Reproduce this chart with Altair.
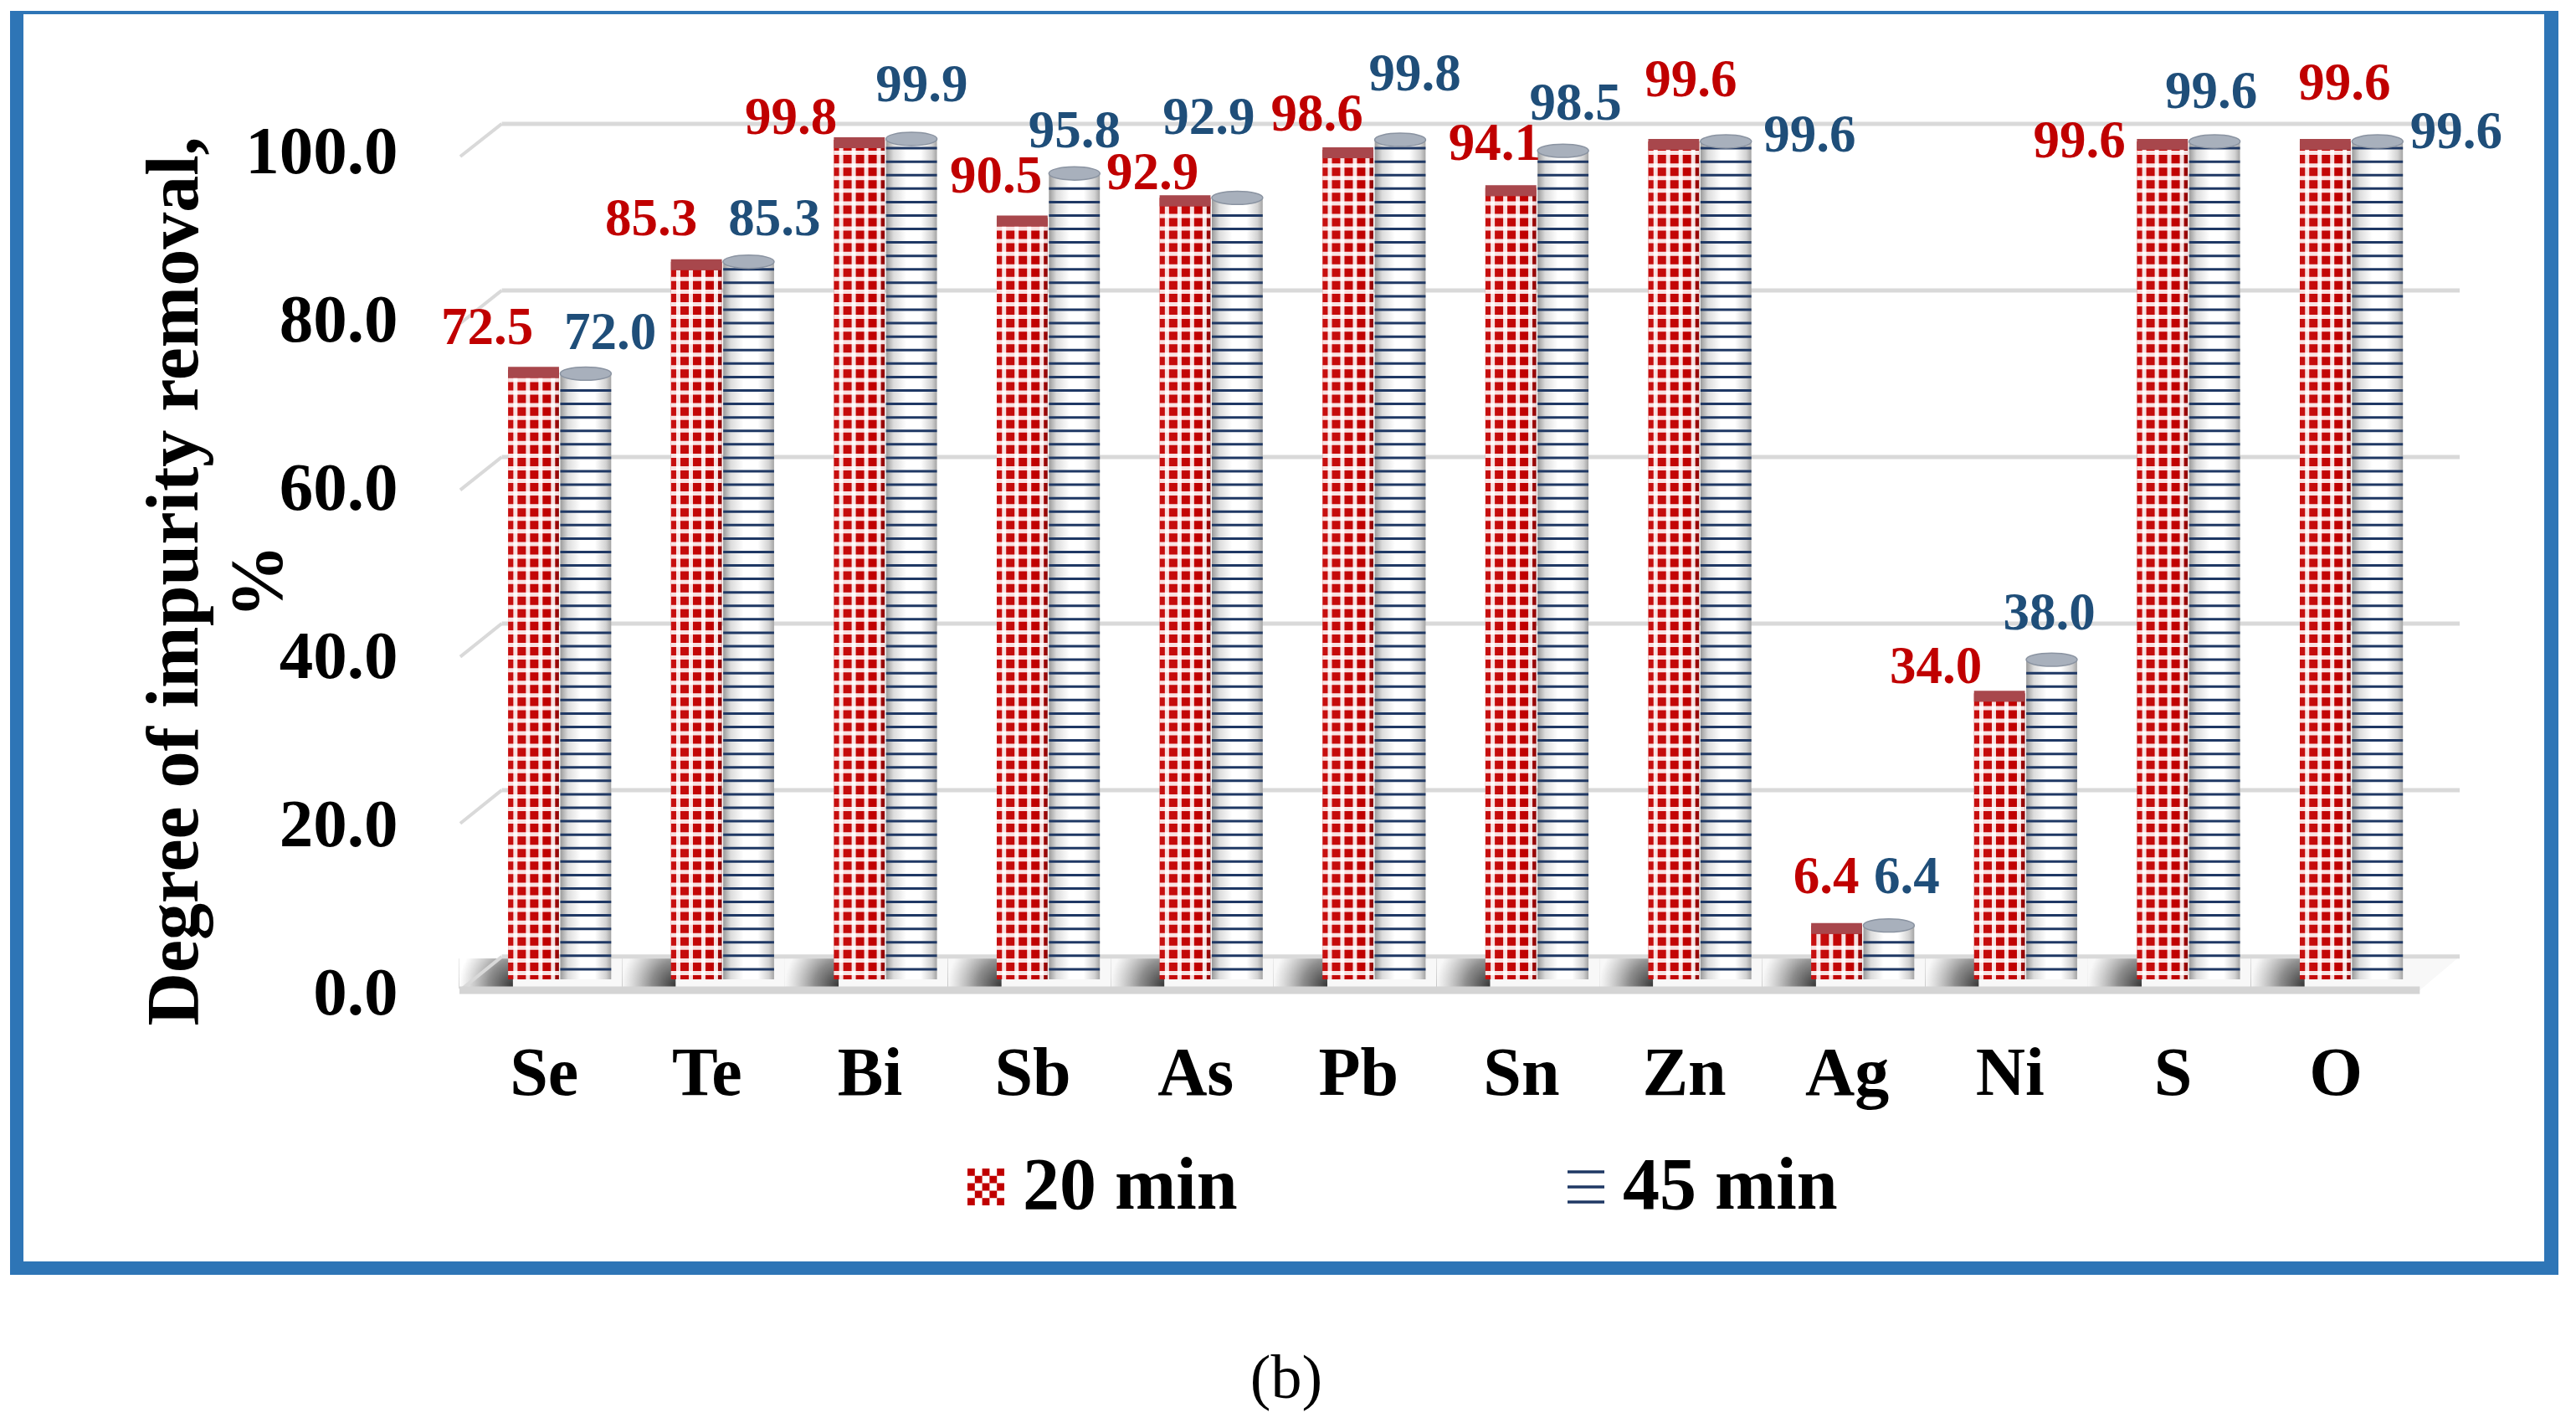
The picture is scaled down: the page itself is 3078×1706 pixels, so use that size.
import json
import altair as alt
import pandas as pd

# ---------------- data ----------------
elements = ["Se", "Te", "Bi", "Sb", "As", "Pb", "Sn", "Zn", "Ag", "Ni", "S", "O"]
removal_20 = [72.5, 85.3, 99.8, 90.5, 92.9, 98.6, 94.1, 99.6, 6.4, 34.0, 99.6, 99.6]
removal_45 = [72.0, 85.3, 99.9, 95.8, 92.9, 99.8, 98.5, 99.6, 6.4, 38.0, 99.6, 99.6]
series = ["20 min", "45 min"]
y_ticks = [0, 20, 40, 60, 80, 100]
y_title = ["Degree of impurity removal,", "%"]
caption = ["(b)"]

# label nudges from the top of each bar (x in category units, y in % units)
nudge_x_20 = [-0.285, -0.278, -0.42, -0.16, -0.20, -0.19, -0.10, 0.105, -0.063, -0.39, -0.51, 0.118]
nudge_y_20 = [4.9, 5.05, 2.6, 4.9, 2.9, 4.2, 5.2, 7.3, 5.7, 3.1, 0.0, 6.9]
nudge_x_45 = [0.15, 0.159, 0.063, 0.0, -0.175, 0.09, 0.077, 0.515, 0.11, -0.015, -0.02, 0.483]
nudge_y_45 = [4.8, 5.05, 6.4, 5.0, 9.5, 7.8, 5.6, 0.7, 5.7, 5.5, 5.9, 1.1]

# ---------------- style ----------------
SERIF = "Liberation Serif"
RED = "#c00000"
NAVY = "#1f3864"
BLUE_TXT = "#1f4e79"
FRAME = "#2e75b6"
GRID = "#d9d9d9"
HALF = 0.3125   # bar width in category units
GAP = 0.004

rows = []
for i, el in enumerate(elements):
    for s, vals, nx, ny, side in ((series[0], removal_20, nudge_x_20, nudge_y_20, -1),
                                  (series[1], removal_45, nudge_x_45, nudge_y_45, 1)):
        if side < 0:
            x0, x1 = i - GAP - HALF, i - GAP
        else:
            x0, x1 = i + GAP, i + GAP + HALF
        rows.append(dict(element=el, idx=i, series=s, value=vals[i], base=0.0,
                         x0=x0, x1=x1, xc=(x0 + x1) / 2,
                         lx=(x0 + x1) / 2 + nx[i], ly=vals[i] + ny[i],
                         sh0=x0 - 0.30, sh1=x0 + 0.03))
bars = pd.DataFrame(rows)
red = bars[bars.series == series[0]].reset_index(drop=True)
blue = bars[bars.series == series[1]].reset_index(drop=True)

grid = pd.DataFrame({"v": y_ticks})
floor = pd.DataFrame({"fy": [-1.3, 2.7], "fxa": [-0.615, -0.355], "fxb": [11.42, 11.665]})
one = pd.DataFrame({"t": caption})

xs = alt.Scale(domain=[-0.615, 11.665], nice=False, zero=False)
ys = alt.Scale(domain=[0, 100], nice=False, zero=False)

xaxis = alt.Axis(values=list(range(len(elements))),
                 labelExpr=json.dumps(elements) + "[datum.value]",
                 grid=False, ticks=False, tickSize=0, domain=False, title=None,
                 labelFont=SERIF, labelFontSize=82, labelFontWeight="bold",
                 labelColor="black", labelPadding=137, labelBaseline="alphabetic",
                 labelOffset=-19, labelOverlap=False, labelFlush=False, labelBound=False,
                 labelLimit=1000)
yaxis = alt.Axis(values=y_ticks, format=".1f", grid=False, ticks=False, tickSize=0,
                 domain=False, labelFont=SERIF, labelFontSize=81, labelFontWeight="bold",
                 labelColor="black", labelPadding=74, labelOffset=17, labelLimit=1000,
                 labelOverlap=False, labelFlush=False,
                 title=y_title, titleFont=SERIF, titleFontSize=88, titleFontWeight="bold",
                 titleColor="black", titleAngle=270, titleAlign="center",
                 titleBaseline="middle", titleLineHeight=100, titleX=-340, titleY=529,
                 titleLimit=3000)


def X(f):
    return alt.X(f, type="quantitative", scale=xs, axis=xaxis)


def Y(f):
    return alt.Y(f, type="quantitative", scale=ys, axis=yaxis)


# floor
floor_area = alt.Chart(floor).mark_area(orient="horizontal", color="#f8f8f8").encode(
    y=Y("fy"), x=X("fxa"), x2=alt.X2("fxb"))

shadow_grad = alt.RadialGradient(
    gradient="radial", x1=1.0, y1=0.72, r1=0, x2=1.0, y2=0.72, r2=1.0,
    stops=[alt.GradientStop(offset=0, color="rgba(45,45,45,0.95)"),
           alt.GradientStop(offset=0.45, color="rgba(70,70,70,0.6)"),
           alt.GradientStop(offset=1, color="rgba(120,120,120,0)")])
shadows = alt.Chart(red).transform_calculate(sy0="-1.1", sy1="2.5").mark_rect(
    color=shadow_grad).encode(x=X("sh0"), x2=alt.X2("sh1"), y=Y("sy0:Q"), y2=alt.Y2("sy1"))

# back-wall grid lines with slanted connectors
grid_back = alt.Chart(grid).transform_calculate(
    vb="2.7 + 0.99 * datum.v", xl="-0.355", xr="11.665").mark_rule(
    color=GRID, strokeWidth=5).encode(x=X("xl:Q"), x2=alt.X2("xr"), y=Y("vb:Q"))
grid_slant = alt.Chart(grid).transform_calculate(
    vb="2.7 + 0.99 * datum.v", vf="-1.29 + 0.991 * datum.v",
    xb="-0.355", xf="-0.61").mark_rule(color=GRID, strokeWidth=4).encode(
    x=X("xb:Q"), x2=alt.X2("xf"), y=Y("vb:Q"), y2=alt.Y2("vf"))
floor_front = alt.Chart(floor.iloc[[0]]).mark_rule(color="#d4d4d4", strokeWidth=9).encode(
    y=Y("fy"), x=X("fxa"), x2=alt.X2("fxb"))

# 20 min bars: red with white check
red_grad = alt.LinearGradient(
    gradient="linear", x1=0, x2=1, y1=0, y2=0,
    stops=[alt.GradientStop(offset=0, color="#c81010"),
           alt.GradientStop(offset=0.82, color=RED),
           alt.GradientStop(offset=1, color="#8e0a0a")])
red_bars = alt.Chart(red).mark_rect(color=red_grad).encode(
    x=X("x0"), x2=alt.X2("x1"), y=Y("base"), y2=alt.Y2("value"))
red_h = alt.Chart(red).transform_calculate(
    s="sequence(0.75, datum.value - 1.2, 1.5)").transform_flatten(["s"]).mark_rule(
    color="white", strokeWidth=5, opacity=0.88).encode(
    x=X("x0"), x2=alt.X2("x1"), y=Y("s:Q"))
red_v = alt.Chart(red).transform_calculate(
    top="datum.value - 1.0",
    s="sequence(datum.x0 + 0.045, datum.x1 - 0.02, 0.077)").transform_flatten(["s"]).mark_rule(
    color="white", strokeWidth=5, opacity=0.88).encode(
    x=X("s:Q"), y=Y("base"), y2=alt.Y2("top:Q"))
red_top = alt.Chart(red).transform_calculate(
    b="datum.value - 1.0", t="datum.value + 0.3").mark_rect(
    color="#a8474c").encode(x=X("x0"), x2=alt.X2("x1"), y=Y("b:Q"), y2=alt.Y2("t:Q"))

# 45 min bars: white cylinders with navy stripes
blue_grad = alt.LinearGradient(
    gradient="linear", x1=0, x2=1, y1=0, y2=0,
    stops=[alt.GradientStop(offset=0, color="#9a9a9a"),
           alt.GradientStop(offset=0.15, color="#dcdcdc"),
           alt.GradientStop(offset=0.4, color="#ffffff"),
           alt.GradientStop(offset=0.68, color="#ffffff"),
           alt.GradientStop(offset=0.9, color="#d2d2d2"),
           alt.GradientStop(offset=1, color="#a4a4a4")])
blue_bars = alt.Chart(blue).mark_rect(color=blue_grad).encode(
    x=X("x0"), x2=alt.X2("x1"), y=Y("base"), y2=alt.Y2("value"))
blue_stripes = alt.Chart(blue).transform_calculate(
    s="sequence(1.2, datum.value - 0.6, 1.6)").transform_flatten(["s"]).mark_rule(
    color=NAVY, strokeWidth=3).encode(x=X("x0"), x2=alt.X2("x1"), y=Y("s:Q"))
ellipse = "M-1,0A1,0.26,0,1,0,1,0A1,0.26,0,1,0,-1,0Z"
blue_caps = alt.Chart(blue).mark_point(
    shape=ellipse, filled=True, size=3721, color="#a8b0bc", stroke="#8a93a1",
    strokeWidth=1.5, opacity=1).encode(x=X("xc"), y=Y("value"))

# value labels
lab20 = alt.Chart(red).mark_text(
    font=SERIF, fontSize=63, fontWeight="bold", color=RED, align="center",
    baseline="middle").encode(x=X("lx"), y=Y("ly"), text=alt.Text("value:Q", format=".1f"))
lab45 = alt.Chart(blue).mark_text(
    font=SERIF, fontSize=63, fontWeight="bold", color=BLUE_TXT, align="center",
    baseline="middle").encode(x=X("lx"), y=Y("ly"), text=alt.Text("value:Q", format=".1f"))

# legend (symbols: checker for 20 min, three lines for 45 min)
cells = []
for r in range(5):
    for c in range(5):
        if (r + c) % 2 == 0:
            cells.append(f"M{-1 + c * 0.4:.2f},{-1 + r * 0.4:.2f}h0.4v0.4h-0.4Z")
checker = "".join(cells)
lines3 = "M-1,-0.82L1,-0.82M-1,0L1,0M-1,0.82L1,0.82"
leg = alt.Legend(orient="none", legendX=585, legendY=1209, direction="horizontal",
                 title=None, labelFont=SERIF, labelFontSize=88, labelFontWeight="bold",
                 labelColor="black", labelLimit=1000, symbolSize=1936, labelOffset=0,
                 columnPadding=372, padding=0, symbolOpacity=1, symbolStrokeWidth=3.5)
legend_layer = alt.Chart(bars).mark_point(filled=True, opacity=0).encode(
    x=X("xc"), y=Y("value"),
    shape=alt.Shape("series:N", scale=alt.Scale(domain=series, range=[checker, lines3]), legend=leg),
    fill=alt.Fill("series:N", scale=alt.Scale(domain=series, range=[RED, "transparent"]), legend=leg),
    stroke=alt.Stroke("series:N", scale=alt.Scale(domain=series, range=["transparent", NAVY]), legend=leg))

# frame and caption
def side(x0, x1, y0, y1):
    return alt.Chart(one).mark_rect(color=FRAME).encode(
        x=alt.value(x0), x2=alt.value(x1), y=alt.value(y0), y2=alt.value(y1))

frame = [side(-537, -521, -152, 1358), side(2491, 2508, -152, 1358),
         side(-537, 2508, 1342, 1358), side(-537, 2508, -152, -148)]
cap = alt.Chart(one).mark_text(font=SERIF, fontSize=74, align="center",
                               baseline="alphabetic", color="black").encode(
    x=alt.value(988), y=alt.value(1505), text="t:N")

chart = alt.layer(
    floor_area, shadows, grid_back, grid_slant, floor_front,
    red_bars, red_h, red_v, red_top,
    blue_bars, blue_stripes, blue_caps,
    lab20, lab45, legend_layer, cap, *frame
).properties(
    width=2390, height=1005,
    autosize=alt.AutoSizeParams(type="none"),
    padding={"left": 541, "top": 157, "right": 131, "bottom": 528},
    background="white",
).configure_view(stroke=None)

chart.save("out.html", embed_options={"renderer": "svg", "actions": False})
